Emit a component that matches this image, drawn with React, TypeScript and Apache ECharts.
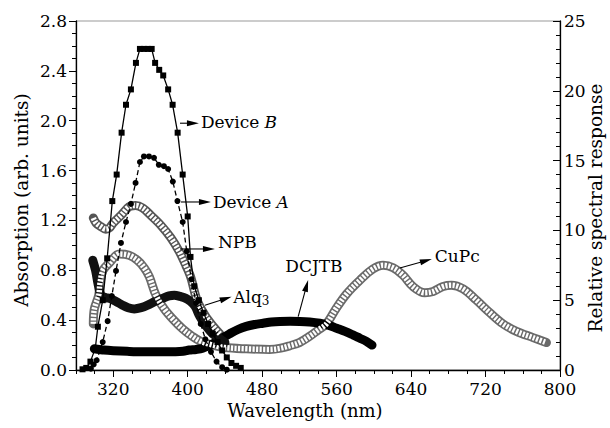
import React, { useEffect, useRef } from "react";
import * as echarts from "echarts";

// ---- Data (wavelength nm, value) ----
const wavelengthLabels = [320, 400, 480, 560, 640, 720, 800];

// Relative spectral response (right axis)
const deviceB = [
  [287, 0.05], [291, 0.15], [295.5, 0.6], [300.7, 1.55], [303.5, 3.1], [308.7, 5.0], [313.5, 8.0],
  [319, 12.1], [323.7, 14.0], [329, 17.0], [333.7, 19.0], [339, 20.1], [344.4, 22.0], [348.7, 23.0],
  [353, 23.0], [357.3, 23.0], [361.3, 23.0], [365, 22.0], [369.4, 21.5], [373.7, 21.1], [379, 20.1],
  [383.8, 19.0], [389.2, 17.0], [394.6, 14.0], [400, 11.0], [403, 8.1], [407, 6.0], [412, 5.0],
  [417, 4.1], [422, 3.3], [427, 2.6], [432, 2.0], [437, 1.4], [442, 0.9], [447, 0.5], [452, 0.3], [457, 0.15],
];
const deviceA = [
  [296, 0.1], [299, 0.4], [302.2, 0.7], [308.7, 2.0], [314, 3.5], [318.5, 5.3], [323, 7.1], [328.3, 9.1],
  [333.7, 10.6], [339, 11.9], [344, 13.4], [348.7, 14.9], [353, 15.3], [358.4, 15.3], [363.8, 15.2],
  [369, 14.7], [374.5, 14.6], [379, 14.4], [384, 13.5], [389, 12.1], [394.6, 10.6], [399, 8.5], [404, 6.5],
  [409, 4.8], [414, 3.3], [419, 2.2], [425, 1.3], [431, 0.6], [437, 0.2], [442, 0.02],
];

// Absorption (left axis)
const npb = [
  [298.6, 1.22], [301.5, 1.18], [306.8, 1.15], [312, 1.13], [316, 1.14], [320, 1.18], [328.3, 1.24],
  [337, 1.31], [344, 1.32], [351.6, 1.3], [360.5, 1.24], [371.3, 1.16], [382, 1.06], [391, 0.95],
  [398, 0.84], [403.5, 0.74], [409.6, 0.57], [418.5, 0.44], [427.4, 0.35], [434.6, 0.29],
];
const alq3 = [
  [298, 0.88], [301, 0.8], [304, 0.68], [307, 0.6], [312, 0.58], [316, 0.575], [323, 0.55], [330, 0.52],
  [336, 0.5], [342.6, 0.49], [350, 0.5], [357, 0.52], [365, 0.55], [373, 0.575], [380, 0.595],
  [385.6, 0.6], [392, 0.59], [398, 0.575], [403, 0.55], [408, 0.51], [413, 0.43], [420, 0.35],
  [427, 0.29], [433, 0.26], [440, 0.22],
];
const dcjtb = [
  [299.7, 0.17], [305, 0.165], [310, 0.16], [320, 0.155], [335, 0.15], [351.6, 0.147], [370, 0.147],
  [387, 0.147], [395, 0.15], [401.7, 0.16], [409, 0.165], [416, 0.175], [427, 0.21], [436, 0.25],
  [445, 0.29], [454, 0.325], [463, 0.35], [472, 0.365], [481, 0.375], [490, 0.385], [499, 0.39],
  [510, 0.392], [520.5, 0.39], [531, 0.385], [542, 0.375], [551, 0.36], [560, 0.335], [569, 0.31],
  [578, 0.28], [585, 0.255], [592, 0.23], [598, 0.2],
];
const cupc = [
  [298.6, 0.37], [299.7, 0.49], [304.4, 0.6], [305.8, 0.7], [309, 0.8], [316, 0.86], [326.5, 0.93],
  [337, 0.92], [346, 0.88], [353.3, 0.82], [358.7, 0.75], [365.9, 0.6], [374.8, 0.49], [383.8, 0.41],
  [394.6, 0.33], [405, 0.27], [414, 0.23], [427, 0.2], [440, 0.18], [463, 0.17], [488, 0.165],
  [500, 0.175], [510, 0.195], [520, 0.22], [531, 0.27], [540, 0.32], [549, 0.37], [560, 0.5],
  [570.7, 0.61], [585, 0.72], [599, 0.81], [610, 0.84], [620.7, 0.82], [631.4, 0.76], [642, 0.67],
  [654.8, 0.62], [663.7, 0.63], [674.4, 0.67], [683.4, 0.68], [695.9, 0.65], [710.2, 0.56],
  [724.5, 0.46], [738.8, 0.37], [753.2, 0.31], [771, 0.26], [785.4, 0.22],
];

// Annotation labels and anchor points (nm, absorption)
const annotationLabels = ["Device {i|B}", "Device {i|A}", "NPB", "Alq{s|3}", "DCJTB", "CuPc"];
const annotationFrom = [[391.7, 1.98], [392.7, 1.348], [391.7, 0.971], [418.5, 0.52], [518.7, 0.428], [627.9, 0.818]];
const annotationTo = [[412.1, 1.98], [425, 1.348], [429.3, 0.971], [447.2, 0.588], [529.4, 0.722], [662.3, 0.89]];
const annotationText = [[414.2, 1.99], [427.1, 1.348], [432.5, 1.027], [448.9, 0.588], [535.6, 0.834], [665.5, 0.915]];
const annotationAlign = ["left", "left", "left", "left", "center", "left"];

// Axis titles
const xTitle = "Wavelength (nm)";
const yLeftTitle = "Absorption (arb. units)";
const yRightTitle = "Relative spectral response";

const FONT = "'DejaVu Serif', 'Liberation Serif', serif";

function bandSeries(name: string, data: number[][], outer: string, inner: string | null) {
  const list: any[] = [
    {
      name,
      type: "line",
      xAxisIndex: 0,
      yAxisIndex: 0,
      data,
      smooth: 0.35,
      showSymbol: false,
      lineStyle: { color: outer, width: 9, cap: "round", join: "round" },
      z: 2,
    },
  ];
  if (inner) {
    list.push({
      name: name + "-inner",
      type: "line",
      xAxisIndex: 0,
      yAxisIndex: 0,
      data,
      smooth: 0.35,
      showSymbol: false,
      lineStyle: { color: inner, width: 5.5, type: [2.2, 1.4], cap: "butt", join: "round" },
      z: 3,
    });
  }
  return list;
}

export default function App() {
  const ref = useRef<HTMLDivElement>(null);
  useEffect(() => {
    const chart = echarts.init(ref.current!, null, { renderer: "svg" });
    const axisLine = { show: true, lineStyle: { color: "#000", width: 1.3 } };
    const option: any = {
      animation: false,
      backgroundColor: "#fff",
      textStyle: { fontFamily: FONT },
      grid: {
        left: 76,
        right: 50,
        top: 21,
        bottom: 58,
        show: true,
        borderColor: "#999",
        borderWidth: 1,
        containLabel: false,
        outerBoundsMode: "none",
      },
      xAxis: [
        {
          type: "value",
          position: "bottom",
          min: 280,
          max: 800,
          interval: 20,
          axisLine,
          axisTick: { show: true, length: 4, lineStyle: { color: "#000" } },
          axisLabel: {
            customValues: wavelengthLabels,
            margin: 10,
            color: "#000",
            fontFamily: FONT,
            fontSize: 17,
          },
          splitLine: { show: false },
        },
        {
          type: "value",
          position: "bottom",
          min: 280,
          max: 800,
          axisLine: { show: false },
          axisTick: { show: true, customValues: wavelengthLabels, length: 7, lineStyle: { color: "#000" } },
          axisLabel: { show: false },
          splitLine: { show: false },
        },
      ],
      yAxis: [
        {
          type: "value",
          position: "left",
          min: 0,
          max: 2.8,
          interval: 0.4,
          axisLine,
          axisTick: { show: true, length: 7, lineStyle: { color: "#000" } },
          minorTick: { show: true, splitNumber: 4, length: 4, lineStyle: { color: "#000" } },
          axisLabel: {
            formatter: (v: number) => v.toFixed(1),
            margin: 9,
            color: "#000",
            fontFamily: FONT,
            fontSize: 17,
          },
          splitLine: { show: false },
        },
        {
          type: "value",
          position: "right",
          min: 0,
          max: 25,
          interval: 5,
          axisLine,
          axisTick: { show: true, inside: true, length: 7, lineStyle: { color: "#000" } },
          minorTick: { show: true, splitNumber: 5, length: 4, lineStyle: { color: "#000" } },
          axisLabel: { margin: 4, color: "#000", fontFamily: FONT, fontSize: 17 },
          splitLine: { show: false },
        },
      ],
      series: [
        ...bandSeries("CuPc", cupc, "#6a6a6a", "#ffffff"),
        ...bandSeries("NPB", npb, "#555555", "#ffffff"),
        ...bandSeries("DCJTB", dcjtb, "#000000", null),
        ...bandSeries("Alq3", alq3, "#111111", null),
        {
          name: "Device A",
          type: "line",
          xAxisIndex: 0,
          yAxisIndex: 1,
          data: deviceA,
          symbol: "circle",
          symbolSize: 6,
          itemStyle: { color: "#000" },
          lineStyle: { color: "#000", width: 1.3, type: [5, 3] },
          z: 5,
        },
        {
          name: "Device B",
          type: "line",
          xAxisIndex: 0,
          yAxisIndex: 1,
          data: deviceB,
          symbol: "rect",
          symbolSize: 6,
          itemStyle: { color: "#000" },
          lineStyle: { color: "#000", width: 1.3 },
          z: 6,
        },
      ],
    };
    chart.setOption(option);

    const toPx = (p: number[]) => chart.convertToPixel({ seriesIndex: 0 }, p) as number[];
    const graphics: any[] = [];
    annotationLabels.forEach((label, i) => {
      const a = toPx(annotationFrom[i]);
      const b = toPx(annotationTo[i]);
      const t = toPx(annotationText[i]);
      const dx = b[0] - a[0];
      const dy = b[1] - a[1];
      const len = Math.sqrt(dx * dx + dy * dy) || 1;
      const ux = dx / len;
      const uy = dy / len;
      const head = 12;
      const hw = 3;
      const bx = b[0] - ux * head;
      const by = b[1] - uy * head;
      graphics.push({
        type: "line",
        shape: { x1: a[0], y1: a[1], x2: bx + ux * 2, y2: by + uy * 2 },
        style: { stroke: "#000", lineWidth: 1.1 },
        z: 100,
      });
      graphics.push({
        type: "polygon",
        shape: { points: [[b[0], b[1]], [bx - uy * hw, by + ux * hw], [bx + uy * hw, by - ux * hw]] },
        style: { fill: "#000" },
        z: 100,
      });
      graphics.push({
        type: "text",
        x: t[0],
        y: t[1],
        style: {
          text: label,
          fill: "#000",
          fontFamily: FONT,
          fontSize: 17,
          align: annotationAlign[i],
          verticalAlign: "middle",
          rich: {
            i: { fontFamily: FONT, fontSize: 17, fontStyle: "italic", fill: "#000" },
            s: { fontFamily: FONT, fontSize: 12, fill: "#000", padding: [9, 0, 0, 0] },
          },
        },
        z: 100,
      });
    });
    // axis titles
    graphics.push({
      type: "text",
      x: 305,
      y: 410,
      style: { text: xTitle, fill: "#000", fontFamily: FONT, fontSize: 18, align: "center", verticalAlign: "middle" },
      z: 100,
    });
    graphics.push({
      type: "text",
      x: 21,
      y: 200,
      rotation: Math.PI / 2,
      style: { text: yLeftTitle, fill: "#000", fontFamily: FONT, fontSize: 18.5, align: "center", verticalAlign: "middle" },
      z: 100,
    });
    graphics.push({
      type: "text",
      x: 595,
      y: 208,
      rotation: Math.PI / 2,
      style: { text: yRightTitle, fill: "#000", fontFamily: FONT, fontSize: 18.5, align: "center", verticalAlign: "middle" },
      z: 100,
    });
    chart.setOption({ graphic: graphics });

    return () => chart.dispose();
  }, []);
  return <div ref={ref} style={{ position: "fixed", left: 0, top: 0, width: 610, height: 428 }} />;
}
